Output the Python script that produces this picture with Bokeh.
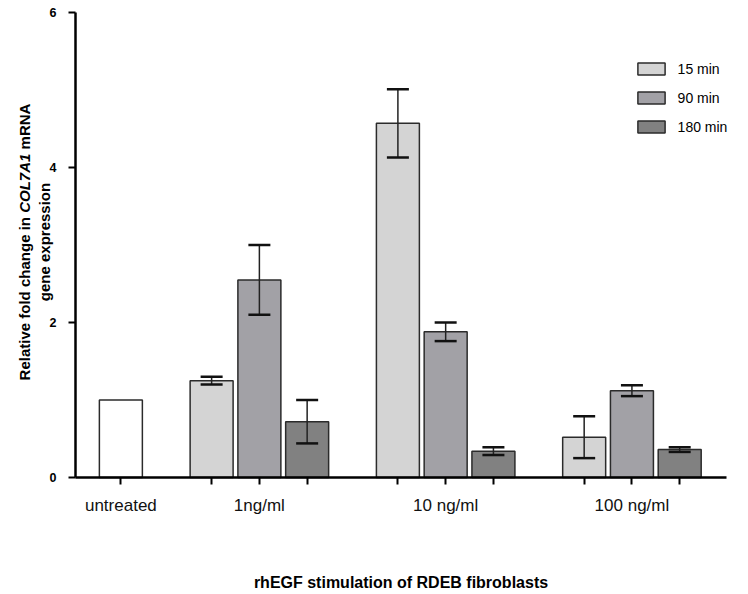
import math
from bokeh.plotting import figure
from bokeh.models import (Range1d, FixedTicker, Label, Legend, LegendItem,
                          Whisker, ColumnDataSource, TeeHead)
from bokeh.embed import file_html
from bokeh.resources import INLINE

# ---------------- data ----------------
untreated_label = "untreated"
untreated_value = 1.0
groups = ["1ng/ml", "10 ng/ml", "100 ng/ml"]
series = ["15 min", "90 min", "180 min"]
mean_15 = [1.25, 4.57, 0.52]
err_15 = [0.05, 0.44, 0.27]
mean_90 = [2.55, 1.88, 1.12]
err_90 = [0.45, 0.12, 0.07]
mean_180 = [0.72, 0.34, 0.36]
err_180 = [0.28, 0.05, 0.03]
y_ticks = [0, 2, 4, 6]
colors = ["#d4d4d4", "#a2a1a6", "#818181"]
x_title = "rhEGF stimulation of RDEB fibroblasts"

means = [mean_15, mean_90, mean_180]
errs = [err_15, err_90, err_180]

# ---------------- layout (pixels) ----------------
W, H = 748, 594
AX_LEFT, AX_RIGHT, AX_TOP, AX_BOTTOM = 75, 726, 12, 477   # axes box in pixels
XA0, XA1 = -0.95, 12.68                                 # data x at axis ends
YMAX = 6.0
FONT = "Liberation Sans"
EDGE = "#2b2b2b"

ppx = (AX_RIGHT - AX_LEFT) / (XA1 - XA0)     # pixels per x unit
ppy = (AX_BOTTOM - AX_TOP) / YMAX            # pixels per y unit
x_lo = XA0 - AX_LEFT / ppx
x_hi = x_lo + W / ppx
y_lo = -(H - AX_BOTTOM) / ppy
y_hi = YMAX + AX_TOP / ppy


def xdata(px):
    return x_lo + px / ppx


def ydata(py):
    return (H - py) / ppy + y_lo


p = figure(width=W, height=H, output_backend="svg", toolbar_location=None,
           x_range=Range1d(x_lo, x_hi), y_range=Range1d(y_lo, y_hi),
           min_border=0, min_border_left=0, min_border_right=0,
           min_border_top=0, min_border_bottom=0)
p.outline_line_color = None
p.xgrid.visible = False
p.ygrid.visible = False
p.background_fill_color = "white"
p.border_fill_color = "white"

# bar positions
step = 1.0
group_gap = 1.9
centers = [round(group_gap + step + i * (2 * step + group_gap), 3) for i in range(len(groups))]
bar_w = 0.9

# untreated
p.vbar(x=[0.0], top=[untreated_value], bottom=0, width=bar_w, fill_color="white",
       line_color=EDGE, line_width=1.5)

legend_items = []
tick_pos = [0.0]
for k, name in enumerate(series):
    xs = [round(c + (k - 1) * step, 3) for c in centers]
    tick_pos += xs
    src = ColumnDataSource(dict(
        x=xs, top=means[k],
        upper=[m + e for m, e in zip(means[k], errs[k])],
        lower=[m - e for m, e in zip(means[k], errs[k])]))
    r = p.vbar(x="x", top="top", bottom=0, width=bar_w, source=src,
               fill_color=colors[k], line_color=EDGE, line_width=1.5)
    legend_items.append(LegendItem(label=name, renderers=[r]))
    w = Whisker(base="x", upper="upper", lower="lower", source=src,
                level="overlay",
                line_color="#222222", line_width=1.5,
                upper_head=TeeHead(size=22, line_width=2.5, line_color="#111111"),
                lower_head=TeeHead(size=22, line_width=2.5, line_color="#111111"))
    p.add_layout(w)

tick_pos = sorted(tick_pos)
overrides = {t: "" for t in tick_pos}
overrides[0.0] = untreated_label
for c, g in zip(centers, groups):
    overrides[c] = g

# x axis (fixed inside the frame at y = 0)
xa = p.xaxis[0]
xa.fixed_location = 0
xa.bounds = (XA0, XA1)
xa.ticker = FixedTicker(ticks=tick_pos)
xa.major_label_overrides = overrides
xa.minor_tick_line_color = None
xa.axis_line_width = 2.5
xa.axis_line_color = "black"
xa.major_tick_line_width = 2
xa.major_tick_line_color = "black"
xa.major_tick_in = 0
xa.major_tick_out = 7
xa.major_label_standoff = 11
xa.major_label_text_font = FONT
xa.major_label_text_font_size = "17px"
xa.major_label_text_color = "#111111"
xa.axis_label = x_title
xa.axis_label_text_font = FONT
xa.axis_label_text_font_size = "16px"
xa.axis_label_text_font_style = "bold"
xa.axis_label_text_color = "black"
xa.axis_label_standoff = 56

# y axis (fixed inside the frame at the left axis position)
ya = p.yaxis[0]
ya.fixed_location = XA0
ya.bounds = (0, YMAX)
ya.ticker = FixedTicker(ticks=y_ticks)
ya.minor_tick_line_color = None
ya.axis_line_width = 2.5
ya.axis_line_color = "black"
ya.major_tick_line_width = 2
ya.major_tick_line_color = "black"
ya.major_tick_in = 0
ya.major_tick_out = 7
ya.major_label_standoff = 12
ya.major_label_text_font = FONT
ya.major_label_text_font_size = "12.5px"
ya.major_label_text_font_style = "bold"
ya.major_label_text_color = "black"

# y axis title (two lines, gene name in italics)
lab_kw = dict(angle=math.pi / 2, text_align="left", text_baseline="alphabetic",
              text_font=FONT, text_font_size="15px", text_color="black")
p.add_layout(Label(x=xdata(24), y=ydata(379.9), text="Relative fold change in",
                   text_font_style="bold", **lab_kw))
p.add_layout(Label(x=xdata(24), y=ydata(212.3), text="COL7A1",
                   text_font_style="bold italic", **lab_kw))
p.add_layout(Label(x=xdata(24), y=ydata(148.9), text="mRNA",
                   text_font_style="bold", **lab_kw))
p.add_layout(Label(x=xdata(44), y=ydata(300.7), text="gene expression",
                   text_font_style="bold", **lab_kw))

# legend
legend = Legend(items=legend_items, location=(633.6, 459.2),
                glyph_width=34, glyph_height=15, label_height=15,
                spacing=13, padding=0, margin=0, label_standoff=10,
                border_line_color=None, background_fill_alpha=0,
                label_text_font=FONT, label_text_font_size="14px",
                label_text_color="black")
p.add_layout(legend)

open("out.html", "w").write(file_html(p, INLINE))
